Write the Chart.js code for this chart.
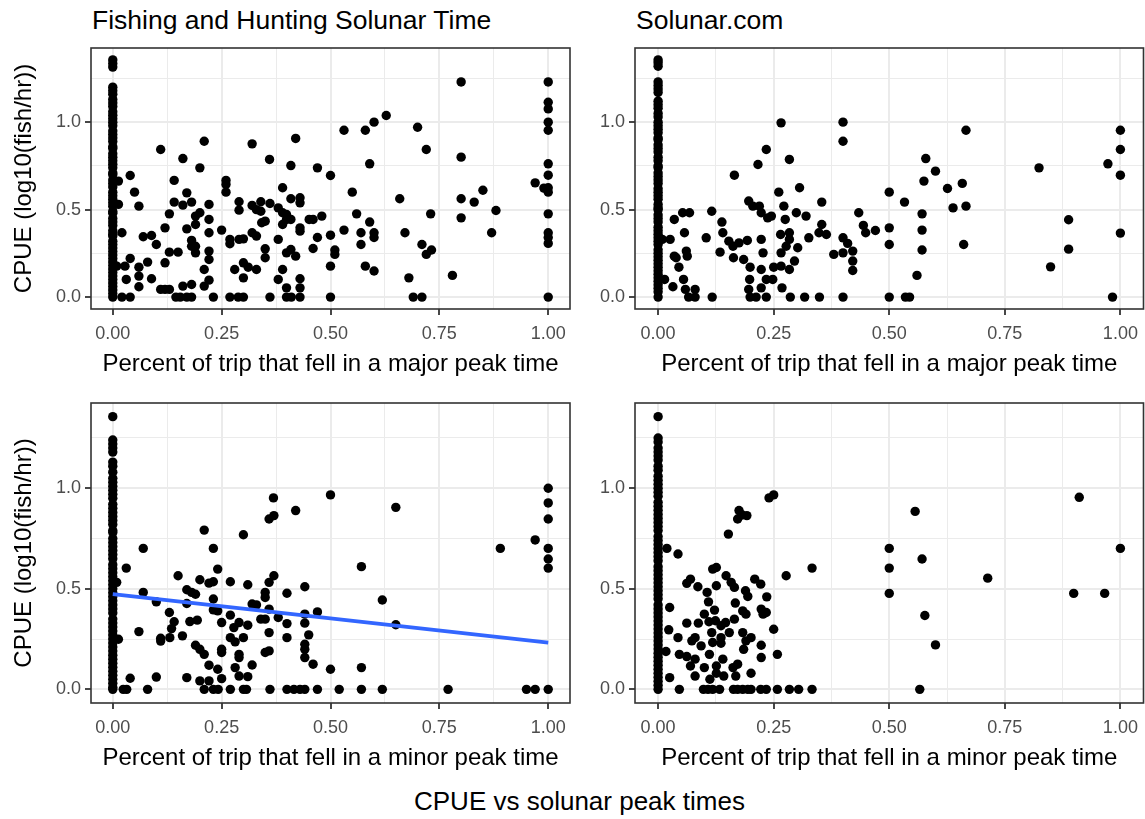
<!DOCTYPE html>
<html>
<head>
<meta charset="utf-8">
<title>CPUE vs solunar peak times</title>
<script src="https://cdn.jsdelivr.net/npm/chart.js@4.4.1/dist/chart.umd.min.js"></script>
<style>
  html, body { margin: 0; padding: 0; background: #fff; }
  #page { position: relative; width: 1145px; height: 819px; font-family: "Liberation Sans", Arial, sans-serif; }
  canvas { position: absolute; }
  .title { position: absolute; font-size: 26.5px; line-height: 30px; color: #000; white-space: nowrap; }
</style>
</head>
<body>
<div id="page">
  <div class="title" style="left:92px; top:5px">Fishing and Hunting Solunar Time</div>
  <div class="title" style="left:636px; top:5px">Solunar.com</div>
  <canvas id="p1"></canvas>
  <canvas id="p2"></canvas>
  <canvas id="p3"></canvas>
  <canvas id="p4"></canvas>
  <div class="title" style="left:414px; top:786px; font-size:26px">CPUE vs solunar peak times</div>
</div>
<script>
// axis breaks
const xMajor = [0, 0.25, 0.5, 0.75, 1];
const xMinor = [0.125, 0.375, 0.625, 0.875];
const yMajor = [0, 0.5, 1];
const yMinor = [0.25, 0.75, 1.25];

const xTitleMajor = "Percent of trip that fell in a major peak time";
const xTitleMinor = "Percent of trip that fell in a minor peak time";
const yTitle = "CPUE (log10(fish/hr))";

// trips with 0% of time in a peak (the dense column at x = 0), CPUE values
const fhMajorZero = [1.356, 1.335, 1.315, 1.2, 1.18, 1.16, 1.13, 1.11, 1.09, 1.06, 1.04, 1.02, 1.0, 0.98, 0.95, 0.93, 0.91, 0.89, 0.86, 0.85, 0.82, 0.8, 0.78, 0.76, 0.74, 0.71, 0.7, 0.67, 0.65, 0.63, 0.6, 0.58, 0.56, 0.54, 0.52, 0.49, 0.48, 0.45, 0.43, 0.41, 0.38, 0.36, 0.35, 0.32, 0.3, 0.28, 0.26, 0.24, 0.22, 0.2, 0.18, 0.16, 0.14, 0.12, 0.1, 0.08, 0.06, 0.04, 0.02, 0];
const scMajorZero = [1.356, 1.34, 1.32, 1.23, 1.21, 1.19, 1.17, 1.12, 1.1, 1.08, 1.05, 1.03, 1.0, 0.98, 0.96, 0.94, 0.91, 0.9, 0.87, 0.85, 0.83, 0.8, 0.78, 0.75, 0.74, 0.71, 0.69, 0.67, 0.65, 0.62, 0.6, 0.58, 0.56, 0.53, 0.51, 0.5, 0.47, 0.45, 0.43, 0.4, 0.38, 0.36, 0.34, 0.32, 0.3, 0.27, 0.25, 0.23, 0.21, 0.19, 0.17, 0.15, 0.13, 0.11, 0.09, 0.07, 0.05, 0.03, 0];
const fhMinorZero = [1.356, 1.24, 1.22, 1.2, 1.18, 1.13, 1.11, 1.08, 1.05, 1.03, 1.01, 0.99, 0.97, 0.95, 0.92, 0.9, 0.88, 0.86, 0.84, 0.82, 0.79, 0.78, 0.75, 0.73, 0.71, 0.69, 0.67, 0.65, 0.62, 0.6, 0.58, 0.56, 0.54, 0.52, 0.5, 0.48, 0.46, 0.44, 0.42, 0.4, 0.38, 0.35, 0.33, 0.31, 0.29, 0.27, 0.25, 0.23, 0.21, 0.19, 0.17, 0.15, 0.13, 0.11, 0.09, 0.07, 0.05, 0.03, 0.01, 0];
const scMinorZero = [1.356, 1.25, 1.23, 1.2, 1.18, 1.16, 1.14, 1.11, 1.09, 1.06, 1.04, 1.02, 1.0, 0.98, 0.96, 0.93, 0.91, 0.89, 0.87, 0.85, 0.83, 0.81, 0.79, 0.76, 0.74, 0.72, 0.7, 0.68, 0.66, 0.64, 0.61, 0.59, 0.57, 0.55, 0.53, 0.51, 0.49, 0.47, 0.45, 0.42, 0.4, 0.38, 0.36, 0.34, 0.32, 0.3, 0.28, 0.26, 0.24, 0.22, 0.2, 0.18, 0.16, 0.14, 0.12, 0.1, 0.08, 0.06, 0.04, 0.02, 0];

// remaining trips: [percent of trip in peak, CPUE]
const fhMajorPts = [
  [0.013,0.663],[0.013,0.53],[0.021,0.368],[0.009,0.177],[0.028,0.177],[0.021,0],[0.04,0],[0.031,0.101],[0.04,0.695],[0.04,0.221],
  [0.05,0.6],[0.06,0.52],[0.06,0.171],[0.06,0.12],[0.06,0.059],[0.07,0.345],[0.08,0.2],[0.089,0.352],[0.089,0.105],[0.1,0.301],
  [0.11,0.844],[0.11,0.044],[0.12,0.044],[0.13,0.044],[0.12,0.396],[0.12,0.196],[0.13,0.476],[0.13,0.257],[0.141,0.667],[0.141,0.543],
  [0.15,0.257],[0.145,0],[0.155,0],[0.161,0.792],[0.161,0.526],[0.161,0.063],[0.17,0.596],[0.17,0.39],[0.17,0],[0.181,0],
  [0.181,0.543],[0.181,0.324],[0.181,0.291],[0.181,0.072],[0.19,0.463],[0.19,0.415],[0.19,0.291],[0.19,0.253],[0.2,0.739],[0.2,0.482],
  [0.21,0.891],[0.21,0.158],[0.21,0.063],[0.221,0.53],[0.221,0.444],[0.221,0.368],[0.221,0.263],[0.221,0.215],[0.221,0.097],[0.231,0],
  [0.25,0.383],[0.26,0.667],[0.26,0.644],[0.26,0.6],[0.269,0.33],[0.269,0.305],[0.269,0],[0.288,0],[0.3,0],[0.28,0.158],
  [0.29,0.545],[0.29,0.497],[0.29,0.33],[0.3,0.333],[0.3,0.196],[0.3,0.11],[0.311,0.171],[0.32,0.876],[0.32,0.524],[0.32,0.368],
  [0.33,0.5],[0.33,0.349],[0.33,0.158],[0.34,0.545],[0.34,0.491],[0.342,0.425],[0.35,0.434],[0.35,0.276],[0.35,0.225],[0.36,0.787],
  [0.361,0.535],[0.361,0],[0.38,0.51],[0.38,0.33],[0.38,0.101],[0.39,0.625],[0.39,0.482],[0.39,0.415],[0.39,0.158],[0.399,0.472],
  [0.399,0.444],[0.399,0.253],[0.399,0.053],[0.399,0],[0.41,0],[0.43,0],[0.409,0.752],[0.409,0.562],[0.409,0.444],[0.409,0.272],
  [0.42,0.907],[0.42,0.234],[0.43,0.568],[0.43,0.539],[0.43,0.396],[0.43,0.377],[0.43,0.105],[0.43,0.053],[0.451,0.444],[0.46,0.278],
  [0.46,0.444],[0.47,0.739],[0.47,0.341],[0.48,0.463],[0.5,0.695],[0.5,0.354],[0.5,0.177],[0.5,0],[0.51,0.269],[0.51,0.244],
  [0.531,0.954],[0.531,0.383],[0.55,0.6],[0.56,0.476],[0.57,0.368],[0.57,0.301],[0.58,0.954],[0.58,0.177],[0.59,0.762],[0.59,0.429],
  [0.6,1.0],[0.6,0.368],[0.6,0.341],[0.6,0.149],[0.628,1.038],[0.659,0.562],[0.671,0.368],[0.68,0.11],[0.69,0],[0.71,0],
  [0.7,0.971],[0.71,0.301],[0.72,0.844],[0.72,0.244],[0.73,0.476],[0.732,0.269],[0.78,0.124],[0.8,1.23],[0.8,0.8],[0.8,0.562],
  [0.8,0.453],[0.83,0.543],[0.85,0.611],[0.87,0.368],[0.88,0.495],[0.97,0.653],[0.99,0.623],[1,1.23],[1,1.114],[1,1.076],
  [1,1.0],[1,0.954],[1,0.762],[1,0.697],[1,0.625],[1,0.6],[1,0.476],[1,0.368],[1,0.341],[1,0.307],[1,0]
];
const scMajorPts = [
  [0.014,0.101],[0.009,0.33],[0.026,0.33],[0.032,0.059],[0.035,0.444],[0.035,0.234],[0.039,0.225],[0.045,0.171],[0.053,0.482],[0.057,0.368],
  [0.055,0.101],[0.061,0.263],[0.063,0.234],[0.059,0.044],[0.068,0.482],[0.066,0],[0.08,0],[0.08,0.044],[0.104,0.339],[0.116,0.491],
  [0.117,0],[0.134,0.257],[0.138,0.429],[0.14,0.368],[0.153,0.32],[0.163,0.225],[0.165,0.697],[0.162,0.291],[0.175,0.31],[0.185,0.215],
  [0.193,0.324],[0.196,0.549],[0.196,0.044],[0.198,0.101],[0.199,0.171],[0.199,0],[0.212,0],[0.205,0.52],[0.216,0.758],[0.219,0.52],
  [0.223,0.482],[0.223,0.33],[0.227,0.253],[0.223,0.158],[0.223,0.053],[0.234,0.844],[0.234,0.101],[0.234,0],[0.237,0.453],[0.245,0.463],
  [0.248,0.101],[0.25,0.171],[0.261,0.6],[0.265,0.358],[0.266,0.996],[0.266,0.253],[0.266,0.177],[0.268,0.053],[0.272,0.52],[0.275,0.444],
  [0.277,0.291],[0.284,0.787],[0.284,0.368],[0.284,0.33],[0.284,0.158],[0.286,0],[0.295,0.206],[0.299,0.482],[0.302,0.282],[0.306,0.625],
  [0.317,0],[0.32,0.463],[0.326,0.339],[0.348,0.368],[0.349,0],[0.354,0.543],[0.354,0.415],[0.364,0.358],[0.38,0.244],[0.4,1.0],
  [0.4,0.891],[0.4,0.339],[0.4,0.253],[0.4,0],[0.41,0.307],[0.421,0.263],[0.421,0.206],[0.434,0.482],[0.421,0.152],[0.444,0.41],
  [0.449,0.368],[0.47,0.381],[0.5,0.6],[0.5,0.396],[0.5,0.301],[0.5,0],[0.533,0.543],[0.535,0],[0.544,0],[0.56,0.124],
  [0.571,0.476],[0.571,0.383],[0.571,0.269],[0.575,0.663],[0.579,0.792],[0.6,0.72],[0.626,0.621],[0.638,0.51],[0.658,0.65],[0.666,0.954],
  [0.666,0.52],[0.661,0.301],[0.824,0.739],[0.849,0.173],[0.888,0.442],[0.888,0.274],[0.973,0.762],[0.983,0],[1,0.954],[1,0.844],
  [1,0.697],[1,0.366]
];
const fhMinorPts = [
  [0.009,0.532],[0.013,0.249],[0.031,0.603],[0.024,0],[0.032,0],[0.04,0.055],[0.06,0.287],[0.07,0.701],[0.07,0.482],[0.08,0],
  [0.1,0.435],[0.1,0.061],[0.11,0.254],[0.11,0.24],[0.13,0.382],[0.131,0.257],[0.135,0.302],[0.141,0.336],[0.15,0.565],[0.16,0.266],
  [0.17,0.495],[0.17,0.427],[0.17,0.058],[0.177,0.337],[0.181,0.482],[0.19,0.473],[0.19,0.219],[0.194,0.344],[0.2,0.545],[0.2,0.199],
  [0.2,0.042],[0.21,0.792],[0.21,0.174],[0.21,0],[0.221,0.528],[0.221,0.12],[0.221,0.042],[0.231,0.701],[0.231,0.535],[0.231,0.449],
  [0.231,0.395],[0.231,0],[0.242,0],[0.241,0.598],[0.241,0.39],[0.241,0.1],[0.25,0.332],[0.25,0.199],[0.25,0.183],[0.25,0.053],
  [0.27,0.535],[0.27,0.369],[0.27,0.257],[0.27,0],[0.278,0.307],[0.281,0.108],[0.281,0.236],[0.29,0.332],[0.29,0.174],[0.29,0.158],
  [0.29,0.066],[0.3,0.769],[0.3,0.257],[0.3,0],[0.307,0],[0.31,0.52],[0.31,0.319],[0.31,0.063],[0.32,0.424],[0.32,0.121],
  [0.33,0.42],[0.34,0.349],[0.35,0.482],[0.35,0.457],[0.35,0.349],[0.35,0.183],[0.359,0.847],[0.359,0.532],[0.359,0.399],[0.359,0.282],
  [0.359,0.191],[0.361,0],[0.369,0.952],[0.37,0.864],[0.37,0.565],[0.38,0.357],[0.4,0.478],[0.4,0.327],[0.4,0.257],[0.4,0],
  [0.416,0],[0.43,0],[0.441,0],[0.42,0.889],[0.441,0.51],[0.441,0.374],[0.441,0.329],[0.441,0.224],[0.441,0.199],[0.441,0.158],
  [0.45,0.271],[0.46,0.125],[0.47,0.385],[0.47,0],[0.5,0.967],[0.5,0.1],[0.52,0],[0.571,0.61],[0.571,0.108],[0.571,0],
  [0.619,0.444],[0.619,0],[0.65,0.905],[0.65,0.321],[0.77,0],[0.89,0.701],[0.95,0],[0.97,0],[0.97,0.743],[1,1.0],
  [1,0.927],[1,0.847],[1,0.701],[1,0.648],[1,0.603],[1,0]
];
const scMinorPts = [
  [0.019,0.701],[0.043,0.673],[0.025,0.407],[0.023,0.296],[0.017,0.188],[0.025,0.058],[0.043,0.257],[0.046,0],[0.046,0.174],[0.062,0.163],
  [0.062,0.329],[0.062,0.527],[0.07,0.548],[0.07,0.116],[0.073,0.241],[0.08,0.257],[0.08,0.15],[0.08,0.066],[0.086,0.51],[0.087,0.329],
  [0.093,0.216],[0.098,0],[0.108,0],[0.118,0],[0.133,0],[0.1,0.374],[0.1,0.108],[0.106,0.482],[0.109,0.435],[0.11,0.336],
  [0.111,0.174],[0.112,0.05],[0.116,0.282],[0.118,0.233],[0.122,0.394],[0.124,0.341],[0.118,0.598],[0.126,0.606],[0.126,0.515],[0.126,0.116],
  [0.126,0.08],[0.136,0.316],[0.136,0.257],[0.136,0.229],[0.14,0.15],[0.142,0.066],[0.146,0.332],[0.147,0.565],[0.152,0.772],[0.154,0.282],
  [0.158,0.532],[0.162,0.108],[0.163,0],[0.172,0],[0.183,0],[0.194,0],[0.201,0],[0.165,0.507],[0.165,0.349],[0.167,0.429],
  [0.168,0.066],[0.172,0.125],[0.172,0.847],[0.175,0.889],[0.182,0.867],[0.183,0.282],[0.183,0.39],[0.185,0.199],[0.189,0.49],[0.19,0.374],
  [0.19,0.241],[0.192,0.864],[0.194,0.462],[0.201,0.257],[0.201,0.08],[0.209,0.548],[0.222,0],[0.234,0],[0.222,0.523],[0.223,0.399],
  [0.223,0.219],[0.223,0.158],[0.227,0.374],[0.234,0.382],[0.235,0.46],[0.24,0.952],[0.25,0.967],[0.25,0.299],[0.258,0],[0.258,0.174],
  [0.277,0.565],[0.284,0],[0.304,0],[0.333,0.603],[0.333,0],[0.5,0.701],[0.5,0.603],[0.5,0.477],[0.556,0.885],[0.566,0],
  [0.571,0.648],[0.577,0.367],[0.6,0.221],[0.713,0.553],[0.899,0.477],[0.911,0.955],[0.966,0.477],[1,0.701]
];

// linear fit shown on the F&H minor-peak panel
const fitX = [0, 1];
const fitY = [0.473, 0.232];

const family = '"Liberation Sans", Arial, sans-serif';
Chart.defaults.font.family = family;

const inList = (list, v) => list.some(m => Math.abs(m - v) < 1e-9);
const allTicks = (a, b) => a.concat(b).sort((p, q) => p - q).map(value => ({ value }));

// no label-overhang padding: the panel box is fixed by layout.padding and afterFit
function fixedBox(s, prop, size) {
  s[prop] = size;
  s.paddingTop = 0;
  s.paddingBottom = 0;
  s.paddingLeft = 0;
  s.paddingRight = 0;
}

// ggplot-style panel border, drawn over the points
const borderPlugin = {
  id: "panelBorder",
  afterDatasetsDraw(chart) {
    const { ctx, chartArea: a } = chart;
    ctx.save();
    ctx.strokeStyle = "#333333";
    ctx.lineWidth = 1.6;
    ctx.strokeRect(a.left, a.top, a.right - a.left, a.bottom - a.top);
    ctx.restore();
  },
};

function panel(id, box, zeroYs, pts, xTitle, showYTitle, fit) {
  const canvas = document.getElementById(id);
  canvas.width = box.w;
  canvas.height = box.h;
  canvas.style.left = box.x + "px";
  canvas.style.top = box.y + "px";

  const points = zeroYs.map(y => ({ x: 0, y })).concat(pts.map(([x, y]) => ({ x, y })));
  const datasets = [{
    type: "scatter",
    data: points,
    backgroundColor: "#000000",
    borderWidth: 0,
    pointRadius: 4.7,
    order: 2,
  }];
  if (fit) {
    datasets.push({
      type: "line",
      data: fit.x.map((x, i) => ({ x, y: fit.y[i] })),
      borderColor: "#3366FF",
      borderWidth: 3.8,
      pointRadius: 0,
      fill: false,
      order: 1,
    });
  }

  new Chart(canvas, {
    type: "scatter",
    data: { datasets },
    options: {
      responsive: false,
      animation: false,
      devicePixelRatio: 1,
      layout: { autoPadding: false, padding: { left: 0, top: box.padTop, right: box.padRight, bottom: 0 } },
      plugins: { legend: { display: false }, tooltip: { enabled: false } },
      scales: {
        x: {
          type: "linear",
          min: -0.05,
          max: 1.05,
          afterBuildTicks: s => { s.ticks = allTicks(xMajor, xMinor); },
          afterFit: s => fixedBox(s, "height", box.xAxisH),
          ticks: {
            autoSkip: false,
            maxRotation: 0,
            padding: 8,
            color: "#4D4D4D",
            font: { size: 18 },
            callback: v => (inList(xMajor, v) ? v.toFixed(2) : ""),
          },
          grid: {
            color: "#EBEBEB",
            lineWidth: c => (c.tick && inList(xMajor, c.tick.value) ? 2 : 1),
            tickLength: 6,
            tickWidth: 1.8,
            tickColor: c => (c.tick && inList(xMajor, c.tick.value) ? "#333333" : "rgba(0,0,0,0)"),
          },
          border: { display: false },
          title: {
            display: true,
            text: xTitle,
            color: "#000000",
            font: { size: 24, lineHeight: 1.2 },
            padding: { top: 0, bottom: 2.6 },
          },
        },
        y: {
          type: "linear",
          min: -0.068,
          max: 1.424,
          afterBuildTicks: s => { s.ticks = allTicks(yMajor, yMinor); },
          afterFit: s => fixedBox(s, "width", box.yAxisW),
          ticks: {
            autoSkip: false,
            padding: 4,
            color: "#4D4D4D",
            font: { size: 18 },
            callback: v => (inList(yMajor, v) ? v.toFixed(1) : ""),
          },
          grid: {
            color: "#EBEBEB",
            lineWidth: c => (c.tick && inList(yMajor, c.tick.value) ? 2 : 1),
            tickLength: 6,
            tickWidth: 1.8,
            tickColor: c => (c.tick && inList(yMajor, c.tick.value) ? "#333333" : "rgba(0,0,0,0)"),
          },
          border: { display: false },
          title: {
            display: showYTitle,
            text: yTitle,
            color: "#000000",
            font: { size: 24, lineHeight: 1.2 },
            padding: { top: 9.6, bottom: 0 },
          },
        },
      },
    },
    plugins: [borderPlugin],
  });
}

panel("p1", { x: 0, y: 42, w: 576, h: 339, padTop: 6, padRight: 6, yAxisW: 91, xAxisH: 72 },
  fhMajorZero, fhMajorPts, xTitleMajor, true, null);
panel("p2", { x: 575, y: 42, w: 570, h: 339, padTop: 6, padRight: 1.5, yAxisW: 60, xAxisH: 72 },
  scMajorZero, scMajorPts, xTitleMajor, false, null);
panel("p3", { x: 0, y: 397, w: 576, h: 378, padTop: 6, padRight: 6, yAxisW: 91, xAxisH: 72 },
  fhMinorZero, fhMinorPts, xTitleMinor, true, { x: fitX, y: fitY });
panel("p4", { x: 575, y: 397, w: 570, h: 378, padTop: 6, padRight: 1.5, yAxisW: 60, xAxisH: 72 },
  scMinorZero, scMinorPts, xTitleMinor, false, null);
</script>
</body>
</html>
